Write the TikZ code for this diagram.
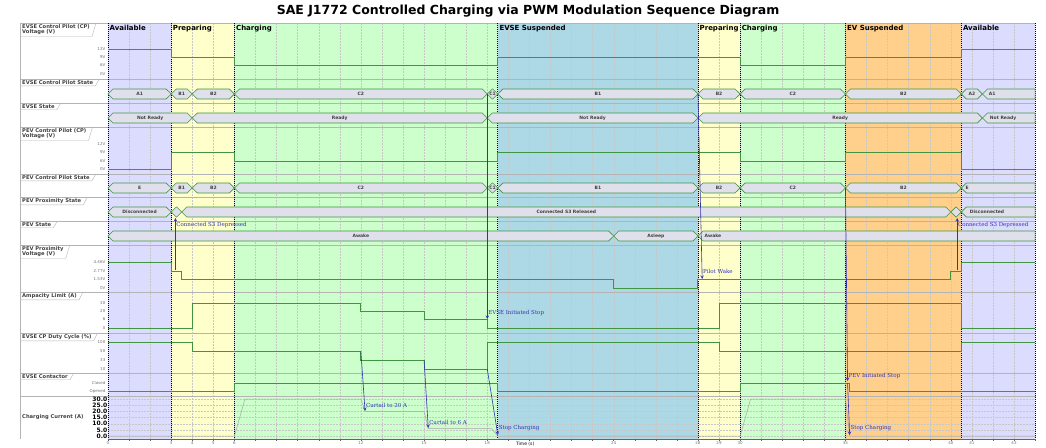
\documentclass[tikz,border=0pt]{standalone}
\usepackage{fontspec}
\setmainfont{DejaVu Serif}
\setsansfont{DejaVu Sans}
\definecolor{availbg}{RGB}{220,220,255}
\definecolor{prepbg}{RGB}{255,255,204}
\definecolor{chargbg}{RGB}{204,255,204}
\definecolor{evsesuspbg}{RGB}{173,216,230}
\definecolor{evsuspbg}{RGB}{255,208,140}
\definecolor{wavegreen}{RGB}{65,148,65}
\definecolor{busfill}{RGB}{224,224,236}
\definecolor{notecol}{RGB}{50,50,180}
\definecolor{rowgray}{RGB}{180,180,180}
\newcommand\busseg[5]{%
  \pgfmathsetmacro\dd{min(0.24,(#3-#2)/2)}%
  \draw[bus] (#2,#1) -- (#2+\dd,#1-5) -- (#3-\dd,#1-5) -- (#3,#1) -- (#3-\dd,#1+5) -- (#2+\dd,#1+5) -- cycle;
  \node[buslabel] (#5) at ({(#2+#3)/2},#1) {#4};}
\newcommand\busend[5]{%
  \draw[bus] (#2,#1) -- (#2+0.24,#1-5) -- (44,#1-5) -- (44,#1+5) -- (#2+0.24,#1+5) -- cycle;
  \node[buslabel] (#5) at (#3,#1) {#4};}
\begin{document}
\begin{tikzpicture}[x=1pt,y=-1pt,
  wave/.style={draw=wavegreen, line width=1pt},
  bus/.style={draw=wavegreen, fill=busfill, line width=0.6pt},
  buslabel/.style={font=\sffamily\bfseries\fontsize{4.5}{5}\selectfont, text=black!75, inner sep=0pt},
  rowlabel/.style={font=\sffamily\bfseries\fontsize{5.2}{5.6}\selectfont, text=black!75, align=left, anchor=north west, inner xsep=2pt, inner ysep=1.2pt},
  tab/.style={draw=rowgray, line width=0.4pt},
  ylab/.style={font=\sffamily\fontsize{4}{5}\selectfont, text=black!55, anchor=east, inner sep=0.5pt},
  phase/.style={font=\sffamily\bfseries\fontsize{7}{8}\selectfont, anchor=north west, inner sep=1.5pt},
  grid/.style={draw=black!22, line width=0.35pt, dash pattern=on 1.5pt off 1.5pt},
  note/.style={font=\fontsize{5.5}{6}\selectfont, text=notecol, anchor=west, inner sep=0.8pt},
  arr/.style={->, >=stealth, draw=notecol, line width=0.6pt},
  >=stealth]
\useasboundingbox (0,0) rectangle (1046,447);
\node[font=\sffamily\bfseries\fontsize{12.5}{14}\selectfont] (title) at (528,11) {SAE J1772 Controlled Charging via PWM Modulation Sequence Diagram};
\begin{scope}[xshift=108pt, x=21.07pt]
  \foreach \a/\b/\c in {0/3/availbg, 3/6/prepbg, 6/18.5/chargbg, 18.5/28/evsesuspbg, 28/30/prepbg, 30/35/chargbg, 35/40.5/evsuspbg, 40.5/44/availbg}
    \fill[\c] (\a,23) rectangle (\b,439);
  \foreach \t in {1,...,43}
    \draw[grid] (\t,23) -- (\t,439);
  \foreach \v in {0,5,...,30}
    \draw[grid] (0,{436-1.233*\v}) -- (44,{436-1.233*\v});
\end{scope}
\foreach \y in {23,79,103,127,174,197,221,245,292,333,373,396}
  \draw[rowgray, line width=0.5pt] (20,\y) -- (1036,\y);
\draw[rowgray, line width=0.5pt] (20,23) -- (20,439);
\foreach \l/\y [count=\i] in {{EVSE Control Pilot (CP)\\Voltage (V)}/23, {EVSE Control Pilot State}/79, {EVSE State}/103, {PEV Control Pilot (CP)\\Voltage (V)}/127, {PEV Control Pilot State}/174, {PEV Proximity State}/197, {PEV State}/221, {PEV Proximity\\Voltage (V)}/245, {Ampacity Limit (A)}/292, {EVSE CP Duty Cycle (\%)}/333, {EVSE Contactor}/373}
{
  \node[rowlabel] (row\i) at (20,\y) {\l};
  \draw[tab] (row\i.south west) -- (row\i.south east) -- ([xshift=4pt]row\i.north east);
}
\node[rowlabel, anchor=west] (row12) at (20,417) {Charging Current (A)};
\foreach \l/\y [count=\i] in {12V/49, 9V/57, 6V/65, 0V/74, 12V/144, 9V/152, 6V/161, 0V/169, 4.46V/262, 2.77V/271, 1.53V/279, 0V/288, 30/303, 20/311, 6/319, 0/328, 100/342, 50/351, 33/360, 10/369, Closed/383, Opened/391}
  \node[ylab] (ytick\i) at (106,\y) {\l};
\foreach \v [count=\i] in {0.0,5.0,10.0,15.0,20.0,25.0,30.0}
  \node[ylab, font=\sffamily\bfseries\fontsize{6}{6}\selectfont, text=black] (cur\i) at (108,{436-1.233*\v}) {\v};
\begin{scope}[xshift=108pt, x=21.07pt]
  \foreach \a/\l [count=\i] in {0/Available, 3/Preparing, 6/Charging, 18.5/EVSE Suspended, 28/Preparing, 30/Charging, 35/EV Suspended, 40.5/Available}
    \node[phase] (phase\i) at (\a,23.5) {\l};
  \foreach \a in {0,3,6,18.5,28,30,35,40.5,44}
    \draw[black, line width=0.7pt, dash pattern=on 1pt off 1pt] (\a,23) -- (\a,439);
  \draw[black!60, line width=0.5pt] (0,439) -- (44,439);
  \foreach \t in {0,...,44}
    \draw[black!60, line width=0.4pt] (\t,439) -- (\t,441);
  \foreach \t in {0,3,4,5,6,12,15,18,24,28,29,30,35,40,41,43}
    \node[ylab, anchor=north] (tick\t) at (\t,441) {\t};
  \node[font=\sffamily\fontsize{4.5}{5}\selectfont, anchor=south, inner sep=0.3pt] (xlabel) at (19.8,447) {Time (s)};
  \draw[wave] (0,49) -| (3,57) -| (6,65) -| (18.5,57) -| (30,65) -| (35,57) -| (40.5,49) -- (44,49);
  \draw[wave] (0,169) -| (3,152) -| (6,161) -| (18.5,152) -| (30,161) -| (35,152) -| (40.5,169) -- (44,169);
  \draw[wave] (0,262) -| (3,271) -| (3.5,279) -| (24,288) -| (28,279) -| (40,271) -| (40.5,262) -- (44,262);
  \draw[wave] (0,328) -| (4,303) -| (12,311) -| (15,319) -| (18,328) -| (29,303) -| (40.5,328) -- (44,328);
  \draw[wave] (0,342) -| (4,351) -| (12,360) -| (15,369) -| (18,342) -| (29,351) -| (40.5,342) -- (44,342);
  \draw[wave] (0,391) -| (6,383) -| (18.5,391) -| (30,383) -| (35.2,391) -- (44,391);
  \draw[black!35, line width=0.5pt] (0,436) -- (6,436) -- (6.5,399) -- (12,399) -- (12.2,411.3) -- (15,411.3) -- (15.2,428.6) -- (18.2,428.6) -- (18.5,436) -- (30,436) -- (30.5,399) -- (35,399) -- (35.2,436) -- (44,436);
  \foreach \y/\a/\b/\l [count=\i] in {94/0/3/A1, 94/3/4/B1, 94/4/6/B2, 94/6/18/C2, 94/18/18.5/C1, 94/18.5/28/B1, 94/28/30/B2, 94/30/35/C2, 94/35/40.5/B2, 94/40.5/41.5/A2,
      118/0/4/Not Ready, 118/4/18/Ready, 118/18/28/Not Ready, 118/28/41.5/Ready,
      188/0/3/E, 188/3/4/B1, 188/4/6/B2, 188/6/18/C2, 188/18/18.5/C1, 188/18.5/28/B1, 188/28/30/B2, 188/30/35/C2, 188/35/40.5/B2,
      212/0/3/Disconnected, 212/3/3.5/, 212/3.5/40/Connected S3 Released, 212/40/40.5/,
      236/0/24/Awake, 236/24/28/Asleep}
    \busseg{\y}{\a}{\b}{\l}{bus\i};
  \foreach \y/\a/\c/\l [count=\i] in {94/41.5/41.96/A1, 118/41.5/42.48/Not Ready, 188/40.5/40.77/E, 212/40.5/41.72/Disconnected, 236/28/28.71/Awake}
    \busend{\y}{\a}{\c}{\l}{busend\i};
  \coordinate (s3a) at (3.2,270);  \coordinate (s3aend) at (3.2,218);
  \coordinate (s3b) at (40.3,270); \coordinate (s3bend) at (40.3,218);
  \coordinate (evsestop) at (18,94); \coordinate (evsestopend) at (18,319);
  \coordinate (curtA) at (12,351); \coordinate (curtAend) at (12.2,411);
  \coordinate (curtB) at (15,360); \coordinate (curtBend) at (15.2,428);
  \coordinate (stopA) at (18,369); \coordinate (stopAend) at (18.5,435);
  \coordinate (wake) at (28,94); \coordinate (wakeend) at (28.2,279);
  \coordinate (pevstop) at (35,188); \coordinate (pevstopend) at (35.1,381);
  \coordinate (stopB) at (35.1,383); \coordinate (stopBend) at (35.2,435);
  \foreach \p in {s3a,s3b,evsestop,curtA,curtB,stopA,wake,pevstop,stopB}
    \draw[arr] (\p) -- (\p end);
  \node[note] (n1) at ([yshift=-7pt]s3aend) {Connected S3 Depressed};
  \node[note] (n2) at ([yshift=-7pt]s3bend) {Connected S3 Depressed};
  \node[note] (n3) at ([yshift=6pt]evsestopend) {EVSE Initiated Stop};
  \node[note] (n4) at ([yshift=6pt]curtAend) {Curtail to 20 A};
  \node[note] (n5) at ([yshift=6pt]curtBend) {Curtail to 6 A};
  \node[note] (n6) at ([yshift=7pt]stopAend) {Stop Charging};
  \node[note] (n7) at ([yshift=8pt]wakeend) {Pilot Wake};
  \node[note] (n8) at ([yshift=5pt]pevstopend) {PEV Initiated Stop};
  \node[note] (n9) at ([yshift=7pt]stopBend) {Stop Charging};
\end{scope}
\end{tikzpicture}
\end{document}
